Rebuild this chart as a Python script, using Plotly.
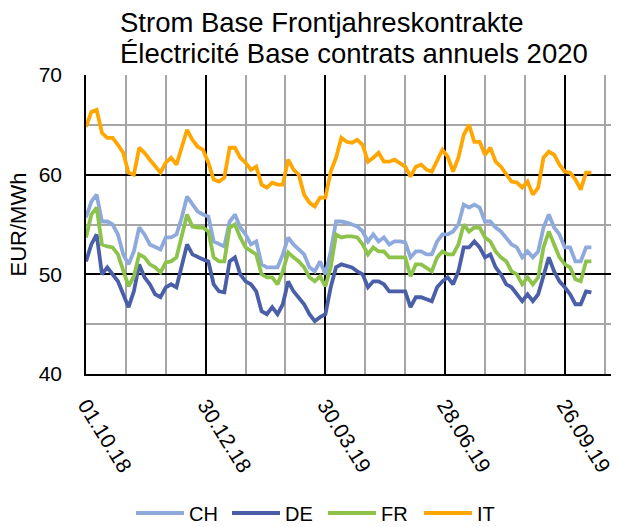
import pandas as pd
import plotly.graph_objects as go

start_date = "2018-10-01"
step_days = 4

title_lines = ["Strom Base Frontjahreskontrakte", "Électricité Base contrats annuels 2020"]
y_title = "EUR/MWh"

ch = [55.7, 57.3, 58.0, 55.3, 55.3, 55.0, 54.0, 52.0, 51.0, 52.3, 54.7, 54.0, 53.0, 52.7, 52.5, 53.7, 53.7, 54.0, 55.7, 57.8, 57.0, 56.3, 56.0, 55.8, 53.3, 53.0,
      52.8, 55.3, 56.0, 54.7, 54.0, 53.0, 53.3, 51.0, 50.7, 50.7, 50.7, 52.0, 53.7, 53.0, 52.5, 52.0, 50.7, 50.3, 51.3, 50.0, 52.3, 55.3, 55.3,
      55.2, 55.0, 54.8, 54.3, 53.3, 54.0, 53.3, 53.7, 53.0, 53.3, 53.3, 53.2, 51.7, 52.3, 52.3, 52.0, 52.0, 53.3, 54.0, 54.0, 54.3, 55.0, 57.0, 56.7, 57.0,
      56.7, 55.3, 55.3, 54.7, 54.3, 53.7, 53.0, 52.7, 51.7, 52.3, 51.7, 52.3, 54.7, 56.0, 54.7, 54.0, 52.7, 52.7, 51.3, 51.3, 52.7, 52.7]

de = [51.3, 53.0, 54.0, 50.0, 50.7, 50.0, 49.3, 48.0, 46.7, 48.3, 51.0, 49.7, 49.0, 48.0, 47.7, 48.7, 49.0, 48.7, 51.0, 53.0, 52.0, 51.7, 51.5, 51.3, 49.0, 48.3,
      48.2, 51.3, 51.7, 50.0, 49.3, 49.0, 48.3, 46.3, 46.0, 46.7, 46.0, 47.0, 49.3, 48.3, 47.7, 47.0, 46.0, 45.3, 45.7, 46.0, 48.7, 50.7, 51.0,
      50.8, 50.7, 50.3, 50.0, 48.7, 49.3, 49.3, 49.0, 48.3, 48.3, 48.3, 48.3, 46.7, 47.7, 47.7, 47.5, 47.3, 48.7, 49.3, 49.7, 49.0, 50.3, 52.7, 52.7, 53.3,
      52.7, 51.7, 52.0, 50.7, 50.0, 49.0, 48.7, 48.0, 47.3, 48.0, 47.3, 48.0, 49.7, 51.7, 50.3, 49.3, 48.7, 48.0, 47.0, 47.0, 48.3, 48.2]

fr = [53.7, 56.0, 56.7, 53.0, 52.8, 52.7, 52.0, 50.3, 48.8, 49.8, 52.0, 51.7, 51.0, 50.7, 50.2, 51.2, 51.3, 51.7, 53.7, 56.0, 54.8, 54.7, 54.7, 54.3, 51.7, 51.3,
      51.3, 54.7, 55.0, 53.7, 52.7, 52.3, 52.0, 50.0, 49.7, 49.7, 49.0, 50.3, 52.2, 51.7, 51.3, 50.7, 49.7, 49.3, 49.8, 48.8, 50.7, 54.0, 53.7,
      53.8, 53.8, 53.7, 53.0, 52.0, 52.7, 52.3, 52.3, 51.7, 51.7, 51.7, 51.7, 49.8, 51.0, 51.0, 50.7, 50.3, 51.7, 52.3, 52.0, 52.0, 53.0, 55.0, 54.3, 54.7,
      54.7, 53.7, 53.3, 52.3, 51.7, 51.3, 50.3, 50.0, 49.0, 49.7, 49.0, 49.7, 52.7, 54.3, 53.0, 51.7, 51.0, 50.7, 49.5, 49.3, 51.3, 51.3]

it = [64.8, 66.3, 66.5, 64.2, 63.7, 63.7, 63.0, 62.2, 60.2, 60.0, 62.7, 62.2, 61.5, 60.8, 60.2, 61.2, 61.7, 61.0, 62.7, 64.5, 63.5, 62.8, 62.5, 61.2, 59.5, 59.3,
      59.7, 62.7, 62.7, 61.7, 61.2, 60.5, 60.8, 59.0, 58.7, 59.2, 59.0, 59.0, 61.5, 60.5, 60.0, 58.0, 57.2, 56.8, 57.7, 57.7, 60.3, 61.7, 63.7,
      63.3, 63.2, 63.5, 63.0, 61.3, 61.7, 62.2, 61.3, 61.3, 61.5, 61.2, 60.8, 59.8, 60.8, 61.0, 60.5, 60.3, 61.3, 62.5, 61.8, 60.3, 61.7, 64.0, 65.0, 63.3,
      63.3, 62.0, 62.7, 61.3, 60.8, 60.0, 59.3, 59.2, 58.7, 59.3, 58.0, 58.7, 61.7, 62.3, 62.0, 61.0, 60.3, 60.2, 59.5, 58.5, 60.2, 60.2]

dates = pd.date_range(start_date, periods=len(ch), freq=f"{step_days}D")

series = [("CH", ch, "#8EA9DB"), ("DE", de, "#4A5FA8"), ("FR", fr, "#8DC34A"), ("IT", it, "#FFA600")]

FONT = "Liberation Sans, Arial, sans-serif"
DAY_MS = 86400000

fig = go.Figure()
for name, vals, col in series:
    fig.add_trace(go.Scatter(x=dates, y=vals, name=name, mode="lines",
                             line=dict(color=col, width=3.8)))

# plot area: x 86..615, y 75..374 (px)
PL, PR, PT, PB = 86, 615, 75, 374
def px_x(x):
    return (x - PL) / (PR - PL)
def px_y(y):
    return (PB - y) / (PB - PT)

annotations = []
for i, line in enumerate(title_lines):
    annotations.append(dict(text=line, xref="paper", yref="paper",
                            x=px_x(118), y=px_y(23 + 30 * i),
                            xanchor="left", yanchor="middle", showarrow=False,
                            font=dict(size=27.5, family=FONT, color="black")))

fig.update_layout(
    width=620, height=527,
    margin=dict(l=PL, r=620 - PR, t=PT, b=527 - PB),
    paper_bgcolor="white", plot_bgcolor="white",
    font=dict(family=FONT, color="black", size=20),
    annotations=annotations,
    showlegend=True,
    legend=dict(orientation="h", xref="container", yref="container",
                x=0.5 + 13 / 620, xanchor="center", y=1 - 513 / 527, yanchor="middle",
                font=dict(size=20, family=FONT), entrywidth=33, entrywidthmode="pixels",
                itemwidth=48, tracegroupgap=0),
)

fig.update_xaxes(
    type="date",
    range=["2018-10-01", "2019-10-30 18:00"],
    tick0="2018-10-01", dtick=90 * DAY_MS,
    tickformat="%d.%m.%y", tickangle=58,
    tickfont=dict(size=21, family=FONT),
    ticklabelstandoff=9,
    showgrid=True, gridcolor="black", gridwidth=1.5,
    minor=dict(dtick=30 * DAY_MS, tick0="2018-10-01", showgrid=True, gridcolor="#A6A6A6", gridwidth=1.5),
    showline=True, linecolor="black", linewidth=1.5,
    zeroline=False, ticks="",
)

fig.update_yaxes(
    range=[40, 70], dtick=10, tick0=40,
    tickfont=dict(size=21, family=FONT),
    ticklabelstandoff=18,
    showgrid=True, gridcolor="black", gridwidth=1.5,
    minor=dict(dtick=5, showgrid=True, gridcolor="#A6A6A6", gridwidth=1.5),
    showline=True, linecolor="black", linewidth=1.5,
    zeroline=False, ticks="",
    title=dict(text=y_title, font=dict(size=22, family=FONT), standoff=6),
)

fig.write_html("out.html", config={"displayModeBar": False},
               post_script="document.body.style.margin='0';")
